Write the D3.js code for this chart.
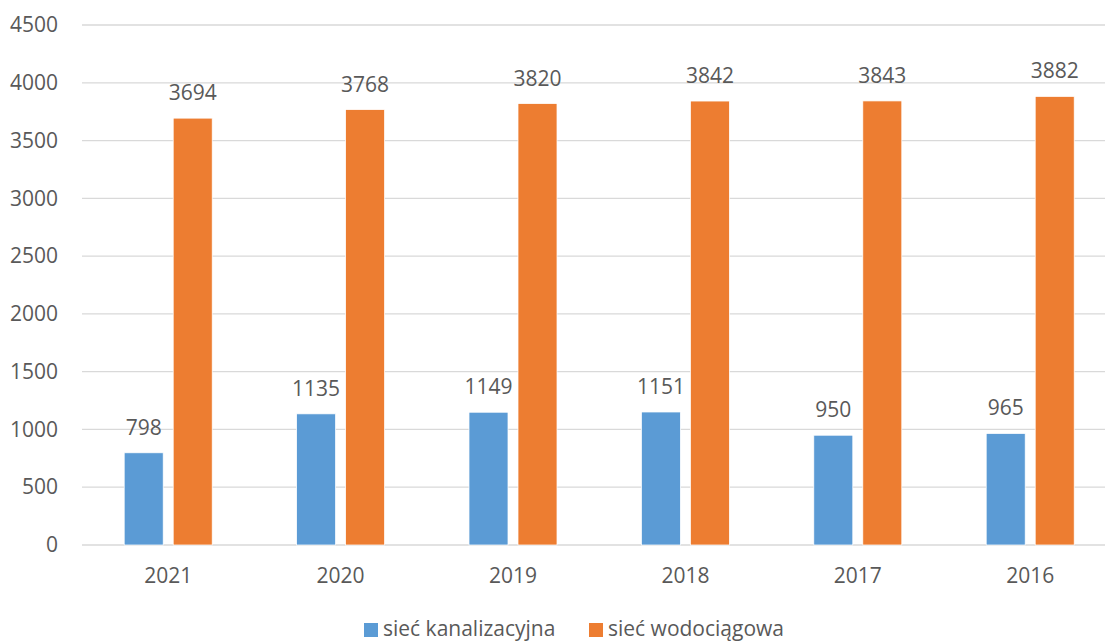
<!DOCTYPE html>
<html>
<head>
<meta charset="utf-8">
<script src="https://cdn.jsdelivr.net/npm/d3@7"></script>
<style>
  html, body { margin: 0; padding: 0; background: #fff; }
  svg text { font-family: 'Open Sans', 'Liberation Sans', sans-serif; fill: #595959; }
</style>
</head>
<body>
<svg id="chart" width="1105" height="641"></svg>
<script>
// dane
let years = ['2021', '2020', '2019', '2018', '2017', '2016'];
let kanalizacja = [798, 1135, 1149, 1151, 950, 965];
let wodociag = [3694, 3768, 3820, 3842, 3843, 3882];
let yTicks = [0, 500, 1000, 1500, 2000, 2500, 3000, 3500, 4000, 4500];
let seriesNames = ['sieć kanalizacyjna', 'sieć wodociągowa'];
let seriesColors = ['#5b9bd5', '#ed7d31'];

let svg = d3.select('#chart');

let plotLeft = 82;
let plotTop = 25;
let plotBottom = 545;
let bandW = 172.4;
let fontSize = '21px';

let x = d3.scaleBand()
	.domain(years)
	.range([plotLeft, plotLeft + bandW * years.length])
	.paddingInner(0)
	.paddingOuter(0);

let inner = d3.scaleBand()
	.domain([0, 1])
	.range([0, bandW])
	.paddingInner(0.204)
	.paddingOuter(0.861);

let y = d3.scaleLinear()
	.domain([0, 4500])
	.range([plotBottom, plotTop]);

// siatka
svg.append('g')
	.selectAll('line')
	.data(yTicks)
	.enter()
	.append('line')
	.attr('x1', plotLeft)
	.attr('x2', 1105)
	.attr('y1', d => y(d))
	.attr('y2', d => y(d))
	.attr('stroke', '#d9d9d9')
	.attr('stroke-width', 1.3);

// oś Y
let yAxis = d3.axisLeft(y)
	.tickValues(yTicks)
	.tickFormat(d3.format('d'))
	.tickSize(0)
	.tickPadding(24);
let gy = svg.append('g')
	.attr('transform', 'translate(' + plotLeft + ',0)')
	.call(yAxis);
gy.select('.domain').remove();
gy.selectAll('text')
	.style('font-size', fontSize)
	.style('font-family', "'Open Sans', sans-serif")
	.attr('fill', '#595959');

// oś X
let xAxis = d3.axisBottom(x).tickSize(0).tickPadding(23);
let gx = svg.append('g')
	.attr('transform', 'translate(0,' + plotBottom + ')')
	.call(xAxis);
gx.select('.domain').remove();
gx.selectAll('text')
	.style('font-size', fontSize)
	.style('font-family', "'Open Sans', sans-serif")
	.attr('fill', '#595959');

let series = [kanalizacja, wodociag];

series.forEach(function(vals, si) {
	let g = svg.append('g');
	g.selectAll('rect')
		.data(vals)
		.enter()
		.append('rect')
		.attr('x', (d, i) => x(years[i]) + inner(si))
		.attr('y', d => y(d))
		.attr('width', inner.bandwidth())
		.attr('height', d => plotBottom - y(d))
		.attr('fill', seriesColors[si])
		.attr('stroke', '#ffffff')
		.attr('stroke-width', 0.75);

	g.selectAll('text')
		.data(vals)
		.enter()
		.append('text')
		.attr('x', (d, i) => x(years[i]) + inner(si) + inner.bandwidth() / 2)
		.attr('y', d => y(d) - 18)
		.attr('text-anchor', 'middle')
		.style('font-size', fontSize)
		.text(d => d);
});

// legenda
let legendPos = [364, 589];
seriesNames.forEach(function(name, i) {
	svg.append('rect')
		.attr('x', legendPos[i])
		.attr('y', 623)
		.attr('width', 14)
		.attr('height', 14)
		.attr('fill', seriesColors[i]);
	svg.append('text')
		.attr('x', legendPos[i] + 19)
		.attr('y', 636)
		.style('font-size', fontSize)
		.text(name);
});
</script>
</body>
</html>
